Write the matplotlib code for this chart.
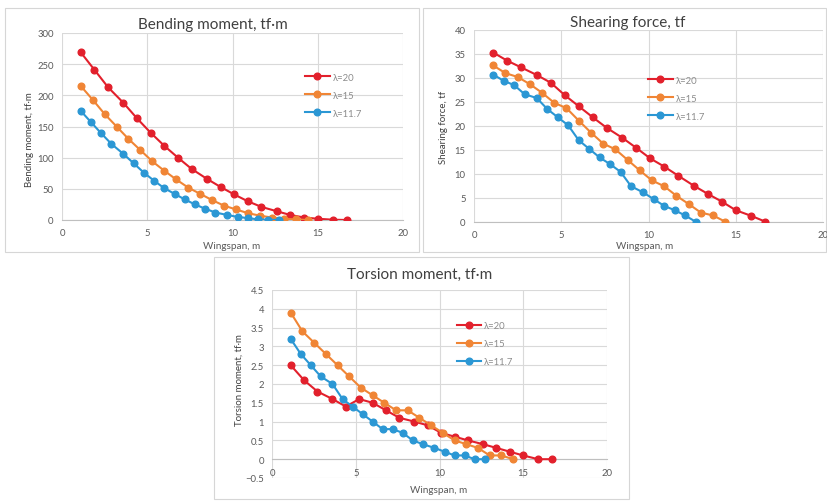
import numpy as np
import matplotlib
matplotlib.use('Agg')
import matplotlib.pyplot as plt
from matplotlib.patches import Rectangle

plt.rcParams['font.family'] = ['Lato', 'DejaVu Sans']

# wingspan positions (m) for each aspect ratio
x_20 = [1.1, 1.9, 2.7, 3.6, 4.4, 5.2, 6.0, 6.8, 7.6, 8.5, 9.3, 10.1, 10.9, 11.7, 12.6, 13.4, 14.2, 15.0, 15.9, 16.7]
x_15 = [1.1, 1.8, 2.5, 3.2, 3.9, 4.6, 5.3, 6.0, 6.7, 7.4, 8.1, 8.8, 9.5, 10.2, 10.9, 11.6, 12.3, 13.0, 13.7, 14.4]
x_117 = [1.1, 1.7, 2.3, 2.9, 3.6, 4.2, 4.8, 5.4, 6.0, 6.6, 7.2, 7.8, 8.4, 9.0, 9.7, 10.3, 10.9, 11.5, 12.1, 12.7]

# bending moment, tf*m
bend_20 = [269, 241, 213, 188, 163, 140, 119, 100, 82, 66, 53, 41, 30, 21, 14, 8, 4, 2, 0.5, 0]
bend_15 = [215, 193, 170, 150, 130, 112, 94, 79, 65, 52, 42, 32, 23, 17, 11, 7, 4, 2, 1, 0]
bend_117 = [175, 157, 139, 122, 106, 91, 76, 63, 51, 42, 33, 25, 18, 12, 8, 5, 3, 1, 0.5, 0]

# shearing force, tf
shear_20 = [35.3, 33.6, 32.2, 30.6, 29.0, 26.4, 24.1, 21.8, 19.6, 17.5, 15.4, 13.2, 11.5, 9.6, 7.5, 5.8, 4.2, 2.4, 1.2, 0]
shear_15 = [32.6, 31.0, 30.2, 28.7, 26.9, 24.8, 23.7, 21.1, 18.6, 16.3, 15.1, 12.9, 10.7, 8.6, 7.4, 5.4, 3.7, 1.9, 1.3, 0]
shear_117 = [30.7, 29.4, 28.5, 26.6, 25.8, 23.5, 21.8, 20.1, 17.0, 15.2, 13.4, 12.0, 10.4, 7.4, 6.1, 4.7, 3.3, 2.4, 1.3, 0]

# torsion moment, tf*m
tors_20 = [2.5, 2.1, 1.8, 1.6, 1.4, 1.6, 1.5, 1.3, 1.1, 1.0, 0.9, 0.7, 0.6, 0.5, 0.4, 0.3, 0.2, 0.1, 0, 0]
tors_15 = [3.9, 3.4, 3.1, 2.8, 2.5, 2.2, 1.9, 1.7, 1.5, 1.3, 1.3, 1.1, 0.9, 0.7, 0.5, 0.4, 0.3, 0.1, 0.1, 0]
tors_117 = [3.2, 2.8, 2.5, 2.2, 2.0, 1.6, 1.4, 1.2, 1.0, 0.8, 0.8, 0.7, 0.5, 0.4, 0.3, 0.2, 0.1, 0.1, 0, 0]

labels = ['λ=20', 'λ=15', 'λ=11.7']
colors = ['#e2202c', '#f08535', '#2b97d4']

W, H = 827, 502
fig = plt.figure(figsize=(W / 100, H / 100), dpi=100)


def px_axes(left, top, right, bottom):
    return fig.add_axes([left / W, 1 - bottom / H, (right - left) / W, (bottom - top) / H])


def frame(left, top, right, bottom):
    fig.patches.append(Rectangle((left / W, 1 - bottom / H), (right - left) / W, (bottom - top) / H,
                                 transform=fig.transFigure, facecolor='white',
                                 edgecolor='#d6d6d6', lw=0.8, zorder=-1))


def draw(ax, xs, ys, ylim, ystep, title, ylabel, leg_xy, tpos, xlpos, ylpos):
    for x, y, c, lab in zip(xs, ys, colors, labels):
        ax.plot(x, y, color=c, lw=1.5, marker='o', ms=4.8, label=lab, zorder=3)
    ax.set_xlim(0, 20)
    ax.set_ylim(*ylim)
    ax.set_xticks(np.arange(0, 21, 5))
    yt = np.arange(ylim[0], ylim[1] + ystep / 2, ystep)
    ax.set_yticks(yt)
    ax.set_yticklabels([('%g' % v).replace('-', '−') for v in yt])
    ax.grid(True, color='#d9d9d9', lw=0.8)
    ax.set_axisbelow(True)
    for s in ['top', 'right', 'left']:
        ax.spines[s].set_visible(False)
    ax.spines['bottom'].set_position(('data', 0))
    ax.spines['bottom'].set_color('#bfbfbf')
    ax.spines['bottom'].set_linewidth(0.8)
    ax.tick_params(length=0, labelsize=6.8, colors='#595959', pad=6)
    ax.set_facecolor('none')
    ax.legend(loc='center left', bbox_to_anchor=leg_xy, frameon=False, fontsize=6.8,
              labelcolor='#8c8c8c', handlelength=2.6, handletextpad=0.3,
              labelspacing=0.95, borderpad=0, borderaxespad=0)
    fig.text(tpos[0] / W, 1 - tpos[1] / H, title, ha='center', va='center',
             fontsize=11, color='#404040')
    fig.text(xlpos[0] / W, 1 - xlpos[1] / H, 'Wingspan, m', ha='center', va='center',
             fontsize=7.2, color='#595959')
    fig.text(ylpos[0] / W, 1 - ylpos[1] / H, ylabel, ha='center', va='center',
             rotation=90, fontsize=7, color='#404040')


# panel frames
frame(5, 9, 419, 253)
frame(423, 9, 826, 253)
frame(214, 258, 629, 500)

ax1 = px_axes(62, 34, 403, 221)
draw(ax1, [x_20, x_15, x_117], [bend_20, bend_15, bend_117], (0, 300), 50,
     'Bending moment, tf·m', 'Bending moment, tf·m', (0.713, 0.668),
     (213, 25), (232, 247), (29, 140))

ax2 = px_axes(474, 31, 823, 222.7)
draw(ax2, [x_20, x_15, x_117], [shear_20, shear_15, shear_117], (0, 40), 5,
     'Shearing force, tf', 'Shearing force, tf', (0.499, 0.645),
     (628, 23), (645, 247), (444, 127))

ax3 = px_axes(272.3, 291, 606.7, 479)
draw(ax3, [x_20, x_15, x_117], [tors_20, tors_15, tors_117], (-0.5, 4.5), 0.5,
     'Torsion moment, tf·m', 'Torsion moment, tf·m', (0.552, 0.713),
     (420, 275), (439, 491), (239, 380))

fig.savefig('out.png', dpi=100, facecolor='white')
